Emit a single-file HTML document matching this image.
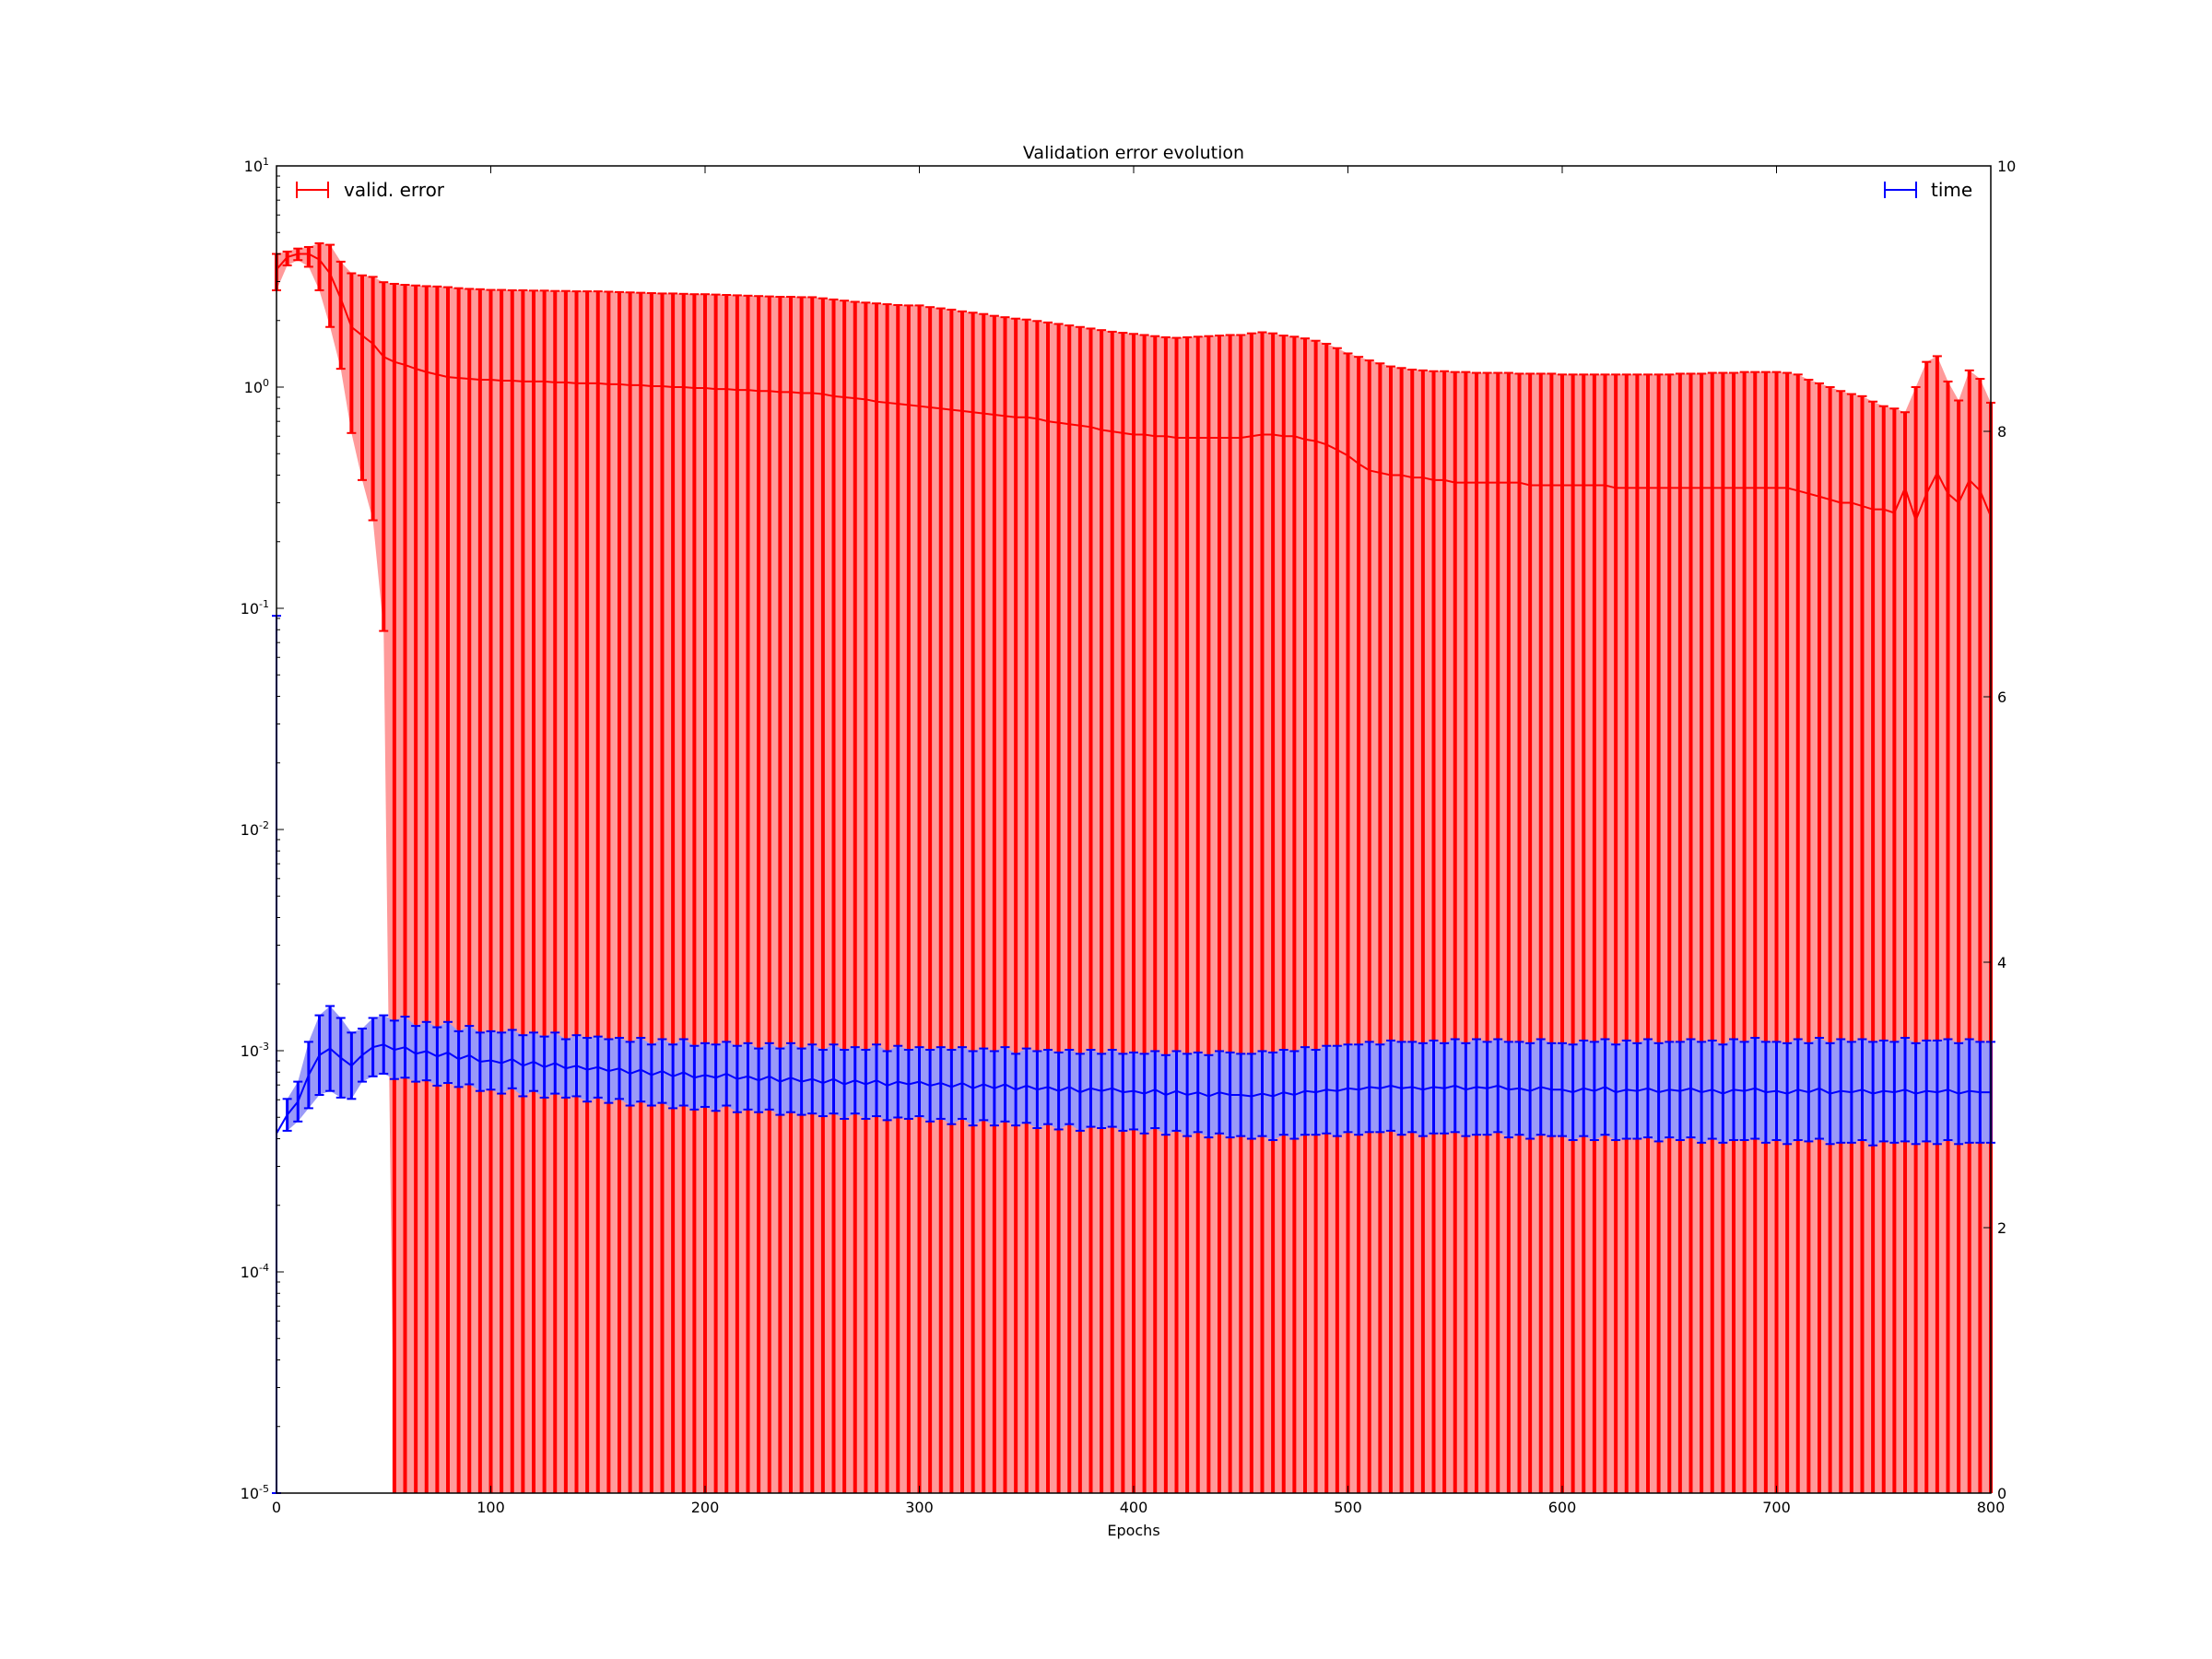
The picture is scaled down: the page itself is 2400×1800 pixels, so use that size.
<!DOCTYPE html>
<html><head><meta charset="utf-8"><style>
html,body{margin:0;padding:0;background:#fff;}
svg{display:block;font-family:"DejaVu Sans","Liberation Sans",sans-serif;}
</style></head><body>
<svg id="chart" width="2400" height="1800" viewBox="0 0 2400 1800" xmlns="http://www.w3.org/2000/svg">
<rect x="0" y="0" width="2400" height="1800" fill="#fff"/>
<text x="1230" y="172" font-size="19" text-anchor="middle">Validation error evolution</text>
<text x="1230" y="1666" font-size="16" text-anchor="middle">Epochs</text>
<g id="plot"></g>
<g id="axes"></g>
<g>
<line x1="322" y1="206" x2="356" y2="206" stroke="#f00" stroke-width="2"/>
<line x1="322" y1="197" x2="322" y2="215" stroke="#f00" stroke-width="2"/>
<line x1="356" y1="197" x2="356" y2="215" stroke="#f00" stroke-width="2"/>
<text x="373" y="213" font-size="20">valid. error</text>
</g>
<g>
<line x1="2045" y1="206" x2="2079" y2="206" stroke="#00f" stroke-width="2"/>
<line x1="2045" y1="197" x2="2045" y2="215" stroke="#00f" stroke-width="2"/>
<line x1="2079" y1="197" x2="2079" y2="215" stroke="#00f" stroke-width="2"/>
<text x="2095" y="213" font-size="20">time</text>
</g>
</svg>
<script>
// red: validation error (log left axis), one value every 5 epochs (0..800)
const errUpper = [4.0,4.1,4.23,4.3,4.47,4.4,3.69,3.27,3.2,3.15,2.98,2.93,2.9,2.88,2.86,2.85,2.83,2.8,2.78,2.77,
2.75,2.75,2.74,2.74,2.73,2.73,2.72,2.72,2.71,2.71,2.71,2.70,2.69,2.68,2.67,2.66,2.65,2.65,2.64,2.63,
2.63,2.62,2.61,2.60,2.59,2.58,2.57,2.56,2.56,2.55,2.55,2.52,2.49,2.46,2.43,2.41,2.39,2.37,2.35,2.34,
2.34,2.30,2.27,2.24,2.20,2.17,2.14,2.10,2.07,2.04,2.02,1.99,1.96,1.93,1.90,1.87,1.84,1.81,1.78,1.76,
1.74,1.72,1.70,1.68,1.67,1.68,1.69,1.70,1.71,1.72,1.72,1.75,1.77,1.75,1.71,1.69,1.66,1.62,1.57,1.50,
1.42,1.37,1.32,1.28,1.24,1.22,1.20,1.19,1.18,1.18,1.17,1.17,1.16,1.16,1.16,1.16,1.15,1.15,1.15,1.15,
1.14,1.14,1.14,1.14,1.14,1.14,1.14,1.14,1.14,1.14,1.14,1.15,1.15,1.15,1.16,1.16,1.16,1.17,1.17,1.17,
1.17,1.16,1.14,1.08,1.04,1.0,0.96,0.93,0.91,0.86,0.82,0.80,0.77,1.0,1.3,1.38,1.06,0.87,1.19,1.09,0.85];
const errMean = [3.4,3.87,4.0,4.0,3.77,3.26,2.51,1.87,1.71,1.57,1.37,1.30,1.26,1.21,1.17,1.14,1.11,1.10,1.09,1.08,
1.08,1.07,1.07,1.06,1.06,1.06,1.05,1.05,1.04,1.04,1.04,1.03,1.03,1.02,1.02,1.01,1.01,1.0,1.0,0.99,
0.99,0.98,0.98,0.97,0.97,0.96,0.96,0.95,0.95,0.94,0.94,0.93,0.91,0.90,0.89,0.88,0.86,0.85,0.84,0.83,
0.82,0.81,0.80,0.79,0.78,0.77,0.76,0.75,0.74,0.73,0.73,0.72,0.70,0.69,0.68,0.67,0.66,0.64,0.63,0.62,
0.61,0.61,0.60,0.60,0.59,0.59,0.59,0.59,0.59,0.59,0.59,0.60,0.61,0.61,0.60,0.60,0.58,0.57,0.55,0.52,
0.49,0.45,0.42,0.41,0.40,0.40,0.39,0.39,0.38,0.38,0.37,0.37,0.37,0.37,0.37,0.37,0.37,0.36,0.36,0.36,
0.36,0.36,0.36,0.36,0.36,0.35,0.35,0.35,0.35,0.35,0.35,0.35,0.35,0.35,0.35,0.35,0.35,0.35,0.35,0.35,
0.35,0.35,0.34,0.33,0.32,0.31,0.30,0.30,0.29,0.28,0.28,0.27,0.35,0.25,0.33,0.41,0.33,0.30,0.38,0.34,0.26];
const errLower = [2.74,3.55,3.75,3.5,2.74,1.87,1.21,0.62,0.38,0.25,0.079,0,0,0,0,0,0,0,0,0,
0,0,0,0,0,0,0,0,0,0,0,0,0,0,0,0,0,0,0,0,0,0,0,0,0,0,0,0,0,0,0,0,0,0,0,0,0,0,0,0,
0,0,0,0,0,0,0,0,0,0,0,0,0,0,0,0,0,0,0,0,0,0,0,0,0,0,0,0,0,0,0,0,0,0,0,0,0,0,0,0,
0,0,0,0,0,0,0,0,0,0,0,0,0,0,0,0,0,0,0,0,0,0,0,0,0,0,0,0,0,0,0,0,0,0,0,0,0,0,0,0,0];
// blue: time (linear right axis)
const timeMean = [2.71,2.85,2.95,3.15,3.30,3.35,3.28,3.22,3.30,3.36,3.38,3.34,3.36,3.31,3.33,3.29,3.32,3.27,3.30,3.25,
3.26,3.24,3.27,3.22,3.25,3.21,3.24,3.20,3.22,3.19,3.21,3.18,3.20,3.16,3.19,3.15,3.18,3.14,3.17,3.13,
3.15,3.13,3.16,3.12,3.14,3.11,3.14,3.10,3.13,3.10,3.12,3.09,3.12,3.08,3.11,3.08,3.11,3.07,3.10,3.08,
3.10,3.07,3.09,3.06,3.09,3.05,3.08,3.05,3.08,3.04,3.07,3.04,3.06,3.03,3.06,3.02,3.05,3.03,3.05,3.02,
3.03,3.01,3.04,3.00,3.03,3.00,3.02,2.99,3.02,3.00,3.00,2.99,3.01,2.99,3.02,3.00,3.03,3.02,3.04,3.03,
3.05,3.04,3.06,3.05,3.07,3.05,3.06,3.04,3.06,3.05,3.07,3.04,3.06,3.05,3.07,3.04,3.05,3.03,3.06,3.04,
3.04,3.02,3.05,3.03,3.06,3.02,3.04,3.03,3.05,3.02,3.04,3.03,3.05,3.02,3.04,3.01,3.04,3.03,3.05,3.02,
3.03,3.01,3.04,3.02,3.05,3.01,3.03,3.02,3.04,3.01,3.03,3.02,3.04,3.01,3.03,3.02,3.04,3.01,3.03,3.02,3.02];
const timeErr = [3.9,0.12,0.15,0.25,0.30,0.32,0.30,0.25,0.20,0.22,0.22,0.22,0.23,0.21,0.22,0.22,0.23,0.21,0.22,0.22,
0.22,0.23,0.22,0.23,0.22,0.23,0.23,0.22,0.23,0.24,0.23,0.24,0.23,0.24,0.24,0.23,0.24,0.24,0.25,0.24,
0.24,0.25,0.24,0.25,0.25,0.24,0.25,0.25,0.26,0.25,0.26,0.25,0.26,0.26,0.25,0.26,0.27,0.26,0.27,0.26,
0.26,0.27,0.27,0.28,0.27,0.28,0.27,0.28,0.28,0.27,0.28,0.29,0.28,0.29,0.28,0.29,0.29,0.28,0.29,0.29,
0.29,0.30,0.29,0.30,0.30,0.31,0.30,0.31,0.31,0.32,0.31,0.32,0.32,0.33,0.32,0.33,0.33,0.32,0.33,0.34,
0.33,0.34,0.34,0.33,0.34,0.35,0.34,0.35,0.35,0.34,0.35,0.35,0.36,0.35,0.35,0.36,0.35,0.36,0.36,0.35,
0.35,0.36,0.36,0.37,0.36,0.36,0.37,0.36,0.37,0.37,0.36,0.37,0.37,0.38,0.37,0.37,0.38,0.37,0.38,0.38,
0.37,0.38,0.38,0.37,0.38,0.38,0.39,0.38,0.38,0.39,0.38,0.38,0.39,0.38,0.38,0.39,0.38,0.38,0.39,0.38,0.38];
const xTicks = [0,100,200,300,400,500,600,700,800];
const logTicks = [-5,-4,-3,-2,-1,0,1];
const rightTicks = [0,2,4,6,8,10];
const epochStep = 5;

const L=300,R=2160,T=180,B=1620;
const NS="http://www.w3.org/2000/svg";
const xS = e => L + (e/800)*(R-L);
const yLog = v => { if(!(v>0)) return B; const y = T + (1-Math.log10(v))/6*(B-T); return Math.min(B, Math.max(T,y)); };
const yLin = v => Math.min(B, Math.max(T, B - v/10*(B-T)));
function mk(tag, attrs, parent){ const el=document.createElementNS(NS,tag); for(const k in attrs) el.setAttribute(k,attrs[k]); parent.appendChild(el); return el; }
const plot=document.getElementById('plot'), axes=document.getElementById('axes');
const epochs = errMean.map((_, i) => i*epochStep);

let up=epochs.map((e,i)=>xS(e)+','+yLog(errUpper[i])), lo=epochs.map((e,i)=>xS(e)+','+yLog(errLower[i])).reverse();
const band=mk('polygon',{points:up.concat(lo).join(' '),fill:'#ff9a9a',stroke:'none'},plot);


epochs.forEach((e,i)=>{
  const x=xS(e), y1=yLog(errUpper[i]), y2=yLog(errLower[i]);
  const b=mk('line',{x1:x,x2:x,y1:y1,y2:y2,stroke:'#f00','stroke-width':4},plot);
  
  
  mk('line',{x1:x-5,x2:x+5,y1:y1,y2:y1,stroke:'#f00','stroke-width':2},plot);
  if(y2<B) mk('line',{x1:x-5,x2:x+5,y1:y2,y2:y2,stroke:'#f00','stroke-width':2},plot);
});
const rl=mk('polyline',{points:epochs.map((e,i)=>xS(e)+','+yLog(errMean[i])).join(' '),fill:'none',stroke:'#f00','stroke-width':2},plot);



up=epochs.slice(1).map((e,j)=>xS(e)+','+yLin(timeMean[j+1]+timeErr[j+1]));
lo=epochs.slice(1).map((e,j)=>xS(e)+','+yLin(timeMean[j+1]-timeErr[j+1])).reverse();
const bb=mk('polygon',{points:up.concat(lo).join(' '),fill:'#9a9af8',stroke:'none'},plot);


epochs.forEach((e,i)=>{
  const x=xS(e), y1=yLin(timeMean[i]+timeErr[i]), y2=yLin(timeMean[i]-timeErr[i]);
  const b=mk('line',{x1:x,x2:x,y1:y1,y2:y2,stroke:'#00f','stroke-width':i===0?2:3},plot);
  
  
  mk('line',{x1:x-5,x2:x+5,y1:y1,y2:y1,stroke:'#00f','stroke-width':2},plot);
  mk('line',{x1:x-5,x2:x+5,y1:y2,y2:y2,stroke:'#00f','stroke-width':2},plot);
});
const bl=mk('polyline',{points:epochs.map((e,i)=>xS(e)+','+yLin(timeMean[i])).join(' '),fill:'none',stroke:'#00f','stroke-width':2},plot);



const fr=mk('rect',{x:L,y:T,width:R-L,height:B-T,fill:'none',stroke:'#000','stroke-width':1.5},axes);


xTicks.forEach(t=>{
  const x=xS(t);
  mk('line',{x1:x,x2:x,y1:B,y2:B-8,stroke:'#000','stroke-width':1},axes);
  mk('line',{x1:x,x2:x,y1:T,y2:T+8,stroke:'#000','stroke-width':1},axes);
  const tx=mk('text',{x:x,y:B+21,'font-size':16,'text-anchor':'middle'},axes);
  tx.textContent=t;
  
  
});
logTicks.forEach(k=>{
  const y=T+(1-k)/6*(B-T);
  mk('line',{x1:L,x2:L+8,y1:y,y2:y,stroke:'#000','stroke-width':1},axes);
  if(k<1) for(let m=2;m<10;m++){ const ym=yLog(Math.pow(10,k)*m); mk('line',{x1:L,x2:L+4,y1:ym,y2:ym,stroke:'#000','stroke-width':1},axes); }
  const tx=mk('text',{x:L-8,y:y+6,'font-size':16,'text-anchor':'end'},axes);
  
  
  const a=document.createElementNS(NS,'tspan'); a.textContent='10'; tx.appendChild(a);
  const s=document.createElementNS(NS,'tspan'); s.setAttribute('dy','-7'); s.setAttribute('font-size','11'); s.textContent=String(k); tx.appendChild(s);
});
rightTicks.forEach(t=>{
  const y=yLin(t);
  mk('line',{x1:R,x2:R-8,y1:y,y2:y,stroke:'#000','stroke-width':1},axes);
  const tx=mk('text',{x:R+7,y:y+6,'font-size':16},axes);
  tx.textContent=t;
  
  
});
</script>
</body></html>
